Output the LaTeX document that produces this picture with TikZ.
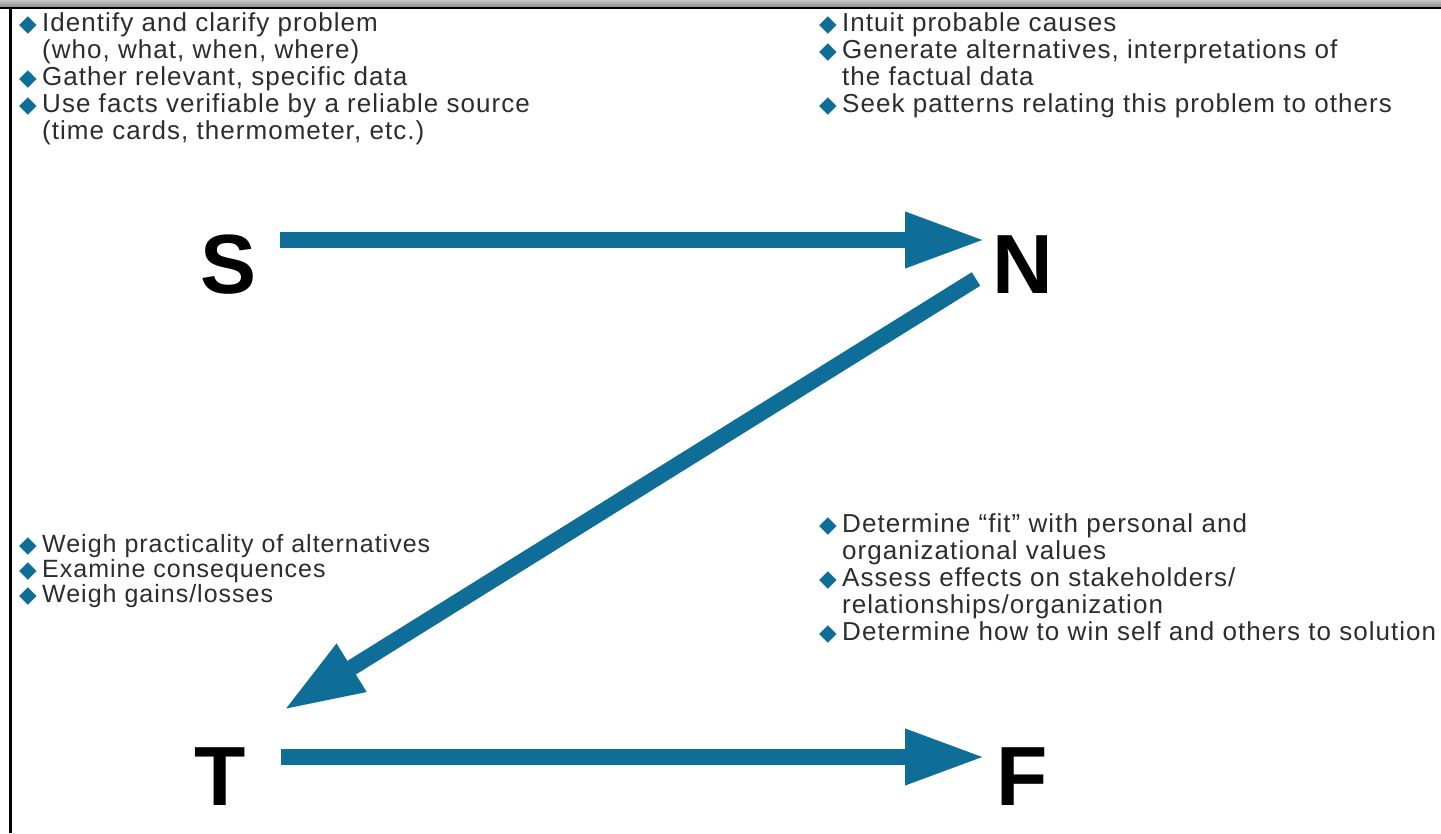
\documentclass[tikz,border=0pt]{standalone}
\usepackage{fontspec}
\setmainfont{Liberation Sans}
\newfontfamily\lstfont[LetterSpace=4]{Liberation Sans}
\newfontfamily\symfont{DejaVu Sans}
\usetikzlibrary{arrows.meta}
\definecolor{arrowblue}{RGB}{14,110,152}
\definecolor{txt}{RGB}{45,45,45}
\setlength{\lineskiplimit}{-50pt}
\newcommand\bul{\makebox[20pt][l]{\hspace*{-3pt}\raisebox{0pt}{\symfont\fontsize{23}{23}\selectfont\textcolor{arrowblue}{◆}}}}
\newcommand\ind{\hspace*{20pt}}
\begin{document}
\begin{tikzpicture}[x=1pt,y=-1pt,
  lst/.style={anchor=north west, inner sep=0pt, align=left, font=\lstfont\fontsize{26}{27}\selectfont, text=txt},
  letter/.style={anchor=north west, inner sep=0pt, font=\fontsize{84}{84}\selectfont\bfseries, text height=60pt, text depth=0pt},
  bigarrow/.style={draw=arrowblue, line width=16pt, -{Triangle[length=80pt,width=52pt]}}]
\useasboundingbox (0,0) rectangle (1441,833);
\fill[white] (0,0) rectangle (1441,833);
% frame
\shade[top color=gray!45, bottom color=gray!85] (0,0) rectangle (1441,6.5);
\fill[black] (0,6.5) rectangle (1441,9);
\fill[black] (9,6.5) rectangle (12,833);
% letters
\node[letter] (S) at (200,233) {S};
\node[letter] (N) at (992,233) {N};
\node[letter] (T) at (194,745) {T};
\node[letter] (F) at (996,745) {F};
% arrows
\draw[bigarrow] ([xshift=24pt,yshift=-7pt]S.north east) -- ([xshift=-7pt,yshift=-7pt]N.north west);
\draw[bigarrow] ([xshift=-16pt,yshift=-46pt]N.north west) -- ([xshift=38pt,yshift=35pt]T.north east);
\draw[bigarrow] ([xshift=35pt,yshift=-12pt]T.north east) -- ([xshift=-11pt,yshift=-12pt]F.north west);
% text blocks
\node[lst] (tl) at (22,12) {\bul Identify and clarify problem\\
\ind (who, what, when, where)\\
\bul Gather relevant, specific data\\
\bul Use facts verifiable by a reliable source\\
\ind (time cards, thermometer, etc.)};
\node[lst] (tr) at (822,12) {\bul Intuit probable causes\\
\bul Generate alternatives, interpretations of\\
\ind the factual data\\
\bul Seek patterns relating this problem to others};
\node[lst,font=\lstfont\fontsize{25}{25}\selectfont] (bl) at (22,534) {\bul Weigh practicality of alternatives\\
\bul Examine consequences\\
\bul Weigh gains/losses};
\node[lst] (br) at (822,513) {\bul Determine “fit” with personal and\\
\ind organizational values\\
\bul Assess effects on stakeholders/\\
\ind relationships/organization\\
\bul Determine how to win self and others to solution};
\end{tikzpicture}
\end{document}
